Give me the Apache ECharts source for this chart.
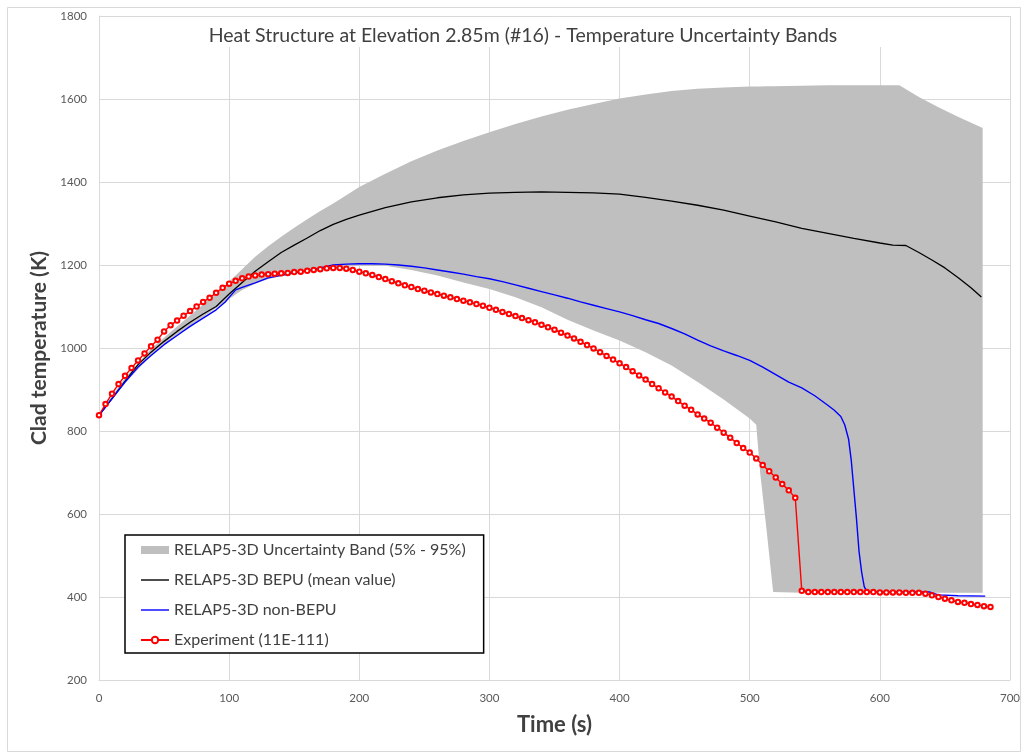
<!DOCTYPE html>
<html>
<head>
<meta charset="utf-8">
<title>Heat Structure at Elevation 2.85m (#16)</title>
<script src="https://cdn.jsdelivr.net/npm/echarts@6/dist/echarts.min.js"></script>
<style>
  html, body { margin: 0; padding: 0; background: #fff; }
  #chart { width: 1030px; height: 756px; }
</style>
</head>
<body>
<div id="chart"></div>
<script>
// ---- Data (time in s, clad temperature in K) ----
const xTicks = [0, 100, 200, 300, 400, 500, 600, 700];
const yTicks = [200, 400, 600, 800, 1000, 1200, 1400, 1600, 1800];

// Uncertainty band (5% / 95%) boundaries
const bandTime = [0, 20, 40, 60, 80, 100, 110, 120, 130, 140, 150, 160, 170, 180, 190, 200,
  220, 240, 260, 280, 300, 320, 340, 360, 380, 400, 420, 440, 460, 480, 500, 505, 508, 513, 518,
  540, 560, 580, 600, 615, 630, 645, 660, 679];
const bandLow = [835, 915, 982, 1032, 1075, 1118, 1140, 1155, 1166, 1173, 1179, 1184, 1188, 1192, 1196, 1198,
  1198, 1188, 1175, 1158, 1142, 1122, 1098, 1068, 1042, 1018, 990, 958, 918, 876, 830, 815, 700, 560, 412,
  410, 410, 410, 410, 410, 410, 410, 410, 410];
const bandHigh = [842, 928, 998, 1052, 1105, 1160, 1190, 1220, 1245, 1268, 1290, 1310, 1330, 1348, 1368, 1388,
  1420, 1450, 1476, 1499, 1520, 1540, 1558, 1574, 1588, 1601, 1611, 1619, 1625, 1628, 1630, 1630, 1630, 1631, 1631,
  1632, 1633, 1633, 1633, 1633, 1605, 1580, 1557, 1530];

// BEPU mean value
const meanTime = [0, 10, 20, 30, 40, 50, 60, 70, 80, 90, 100, 110, 120, 130, 140, 150, 160, 170, 180, 190,
  200, 220, 240, 260, 280, 300, 320, 340, 360, 380, 400, 420, 440, 460, 480, 500, 520, 540, 560, 580,
  600, 610, 620, 630, 640, 650, 660, 670, 678];
const meanTemp = [838, 878, 920, 960, 990, 1016, 1040, 1062, 1082, 1100, 1130, 1158, 1185, 1208, 1230, 1248, 1265, 1283, 1298, 1310,
  1320, 1338, 1352, 1362, 1369, 1373, 1375, 1376, 1375, 1374, 1371, 1363, 1354, 1344, 1332, 1318, 1304, 1288, 1276, 1264,
  1253, 1248, 1247, 1230, 1212, 1193, 1170, 1145, 1123];

// non-BEPU calculation
const nonBepuTime = [0, 10, 20, 30, 40, 50, 60, 70, 80, 90, 97, 100, 105, 110, 120, 130, 140, 150, 160, 170,
  180, 190, 200, 210, 220, 230, 240, 250, 260, 270, 280, 290, 300, 310, 320, 330, 340, 350, 360, 370,
  380, 390, 400, 410, 420, 430, 440, 450, 460, 470, 480, 490, 500, 510, 520, 530, 540, 550, 560, 565,
  570, 573, 576, 578, 580, 582, 584, 586, 588, 590, 600, 610, 620, 630, 638, 645, 660, 681];
const nonBepuTemp = [838, 878, 918, 954, 982, 1008, 1030, 1052, 1072, 1092, 1111, 1122, 1140, 1146, 1157, 1169, 1175, 1181, 1186, 1193,
  1200, 1202, 1203, 1203, 1202, 1200, 1197, 1193, 1188, 1183, 1178, 1172, 1167, 1160, 1152, 1144, 1136, 1128, 1120, 1111,
  1103, 1095, 1087, 1078, 1068, 1059, 1047, 1034, 1019, 1005, 993, 982, 970, 954, 936, 918, 904, 885, 862, 850,
  835, 815, 780, 730, 660, 590, 510, 460, 425, 413, 412, 412, 412, 412, 412, 405, 403, 402];

// Experiment 11E-111
const expTime = [0, 5, 10, 15, 20, 25, 30, 35, 40, 45, 50, 55, 60, 65, 70, 75, 80, 85, 90, 95,
  100, 105, 110, 115, 120, 125, 130, 135, 140, 145, 150, 155, 160, 165, 170, 175, 180, 185, 190, 195,
  200, 205, 210, 215, 220, 225, 230, 235, 240, 245, 250, 255, 260, 265, 270, 275, 280, 285, 290, 295,
  300, 305, 310, 315, 320, 325, 330, 335, 340, 345, 350, 355, 360, 365, 370, 375, 380, 385, 390, 395,
  400, 405, 410, 415, 420, 425, 430, 435, 440, 445, 450, 455, 460, 465, 470, 475, 480, 485, 490, 495,
  500, 505, 510, 515, 520, 525, 530, 535, 540, 545, 550, 555, 560, 565, 570, 575, 580, 585, 590, 595,
  600, 605, 610, 615, 620, 625, 630, 635, 640, 645, 650, 655, 660, 665, 670, 675, 680, 685];
const expTemp = [838, 865, 890, 913, 933, 952, 970, 987, 1004, 1020, 1040, 1055, 1066, 1078, 1089, 1100, 1111, 1121, 1133, 1145,
  1155, 1162, 1168, 1172, 1175, 1177, 1178, 1179, 1180, 1181, 1183, 1184, 1186, 1188, 1190, 1192, 1193, 1193, 1191, 1188,
  1184, 1180, 1176, 1171, 1166, 1161, 1156, 1151, 1147, 1142, 1138, 1134, 1130, 1126, 1122, 1118, 1114, 1110, 1106, 1102,
  1097, 1092, 1087, 1082, 1077, 1072, 1067, 1062, 1056, 1050, 1044, 1037, 1030, 1023, 1015, 1007, 999, 990, 981, 972,
  963, 954, 944, 934, 924, 913, 903, 893, 883, 872, 861, 851, 840, 830, 820, 808, 796, 784, 771, 759,
  748, 734, 718, 703, 688, 672, 657, 639, 415, 412, 412, 412, 412, 412, 412, 412, 412, 412, 412, 412,
  411, 411, 411, 411, 410, 410, 410, 408, 404, 400, 396, 392, 388, 386, 383, 381, 378, 376];

const BAND_NAME = 'RELAP5-3D Uncertainty Band (5% - 95%)';
const MEAN_NAME = 'RELAP5-3D BEPU (mean value)';
const NONBEPU_NAME = 'RELAP5-3D non-BEPU';
const EXP_NAME = 'Experiment (11E-111)';

const pairs = (xs, ys) => xs.map((x, i) => [x, ys[i]]);
const FONT = 'Lato, "Open Sans", sans-serif';
const GRID_COLOR = '#d9d9d9';
const BAND_COLOR = '#bfbfbf';
// Legend swatch for plain lines: a thin bar in the middle of a 28x8 box
// (the bare moves at the corners fix the box the path is scaled into).
const LINE_ICON = 'path://M0,0 M28,8 M0,3.3 L28,3.3 L28,4.7 L0,4.7 Z';

const chart = echarts.init(document.getElementById('chart'), null, { renderer: 'canvas' });

chart.setOption({
  backgroundColor: '#ffffff',
  animation: false,
  textStyle: { fontFamily: FONT },
  title: {
    text: 'Heat Structure at Elevation 2.85m (#16) - Temperature Uncertainty Bands',
    left: 518,
    top: 21,
    textAlign: 'center',
    textStyle: { fontFamily: FONT, fontSize: 19.5, fontWeight: 'normal', color: '#404040' }
  },
  graphic: [
    { type: 'rect', z: -10, silent: true,
      shape: { x: 7.5, y: 7.5, width: 1013, height: 744 },
      style: { fill: 'none', stroke: GRID_COLOR, lineWidth: 1 } },
    { type: 'rect', z: 1, silent: true,
      shape: { x: 200, y: 17, width: 690, height: 30 },
      style: { fill: '#ffffff' } }
  ],
  legend: {
    orient: 'vertical',
    left: 125,
    top: 535,
    padding: [6, 18, 4, 15],
    borderColor: '#000000',
    borderWidth: 1.5,
    backgroundColor: '#ffffff',
    itemWidth: 28,
    itemHeight: 8,
    itemGap: 12,
    textStyle: { fontFamily: FONT, fontSize: 16, color: '#404040', lineHeight: 18 },
    data: [
      { name: BAND_NAME, icon: 'rect', itemStyle: { color: BAND_COLOR } },
      { name: MEAN_NAME, icon: LINE_ICON, itemStyle: { color: '#000000' } },
      { name: NONBEPU_NAME, icon: LINE_ICON, itemStyle: { color: '#0000ff' } },
      { name: EXP_NAME }
    ]
  },
  grid: { left: 99, right: 20, top: 16, bottom: 76, containLabel: false },
  xAxis: {
    type: 'value',
    min: xTicks[0],
    max: xTicks[xTicks.length - 1],
    interval: 100,
    name: 'Time (s)',
    nameLocation: 'middle',
    nameGap: 34,
    nameTextStyle: { fontFamily: FONT, fontSize: 22, fontWeight: 'bold', color: '#404040', verticalAlign: 'top' },
    axisLine: { show: true, lineStyle: { color: GRID_COLOR, width: 1 } },
    axisTick: { show: false },
    axisLabel: { fontFamily: FONT, fontSize: 11.5, color: '#595959', margin: 12, formatter: v => String(v) },
    splitLine: { show: true, lineStyle: { color: GRID_COLOR, width: 1 } }
  },
  yAxis: {
    type: 'value',
    min: yTicks[0],
    max: yTicks[yTicks.length - 1],
    interval: 200,
    name: 'Clad temperature (K)',
    nameLocation: 'middle',
    nameGap: 45,
    nameTextStyle: { fontFamily: FONT, fontSize: 21, fontWeight: 'bold', color: '#404040' },
    axisLine: { show: true, lineStyle: { color: GRID_COLOR, width: 1 } },
    axisTick: { show: false },
    axisLabel: { fontFamily: FONT, fontSize: 11.5, color: '#595959', margin: 12, formatter: v => String(v) },
    splitLine: { show: true, lineStyle: { color: GRID_COLOR, width: 1 } }
  },
  series: [
    {
      name: BAND_NAME,
      type: 'custom',
      coordinateSystem: 'cartesian2d',
      silent: true,
      z: 2,
      itemStyle: { color: BAND_COLOR },
      data: bandTime.map((t, i) => [t, bandLow[i], bandHigh[i]]),
      encode: { x: 0, y: [1, 2] },
      renderItem: function (params, api) {
        if (params.dataIndex !== 0) return null;
        const pts = [];
        for (let i = 0; i < bandTime.length; i++) pts.push(api.coord([bandTime[i], bandHigh[i]]));
        for (let i = bandTime.length - 1; i >= 0; i--) pts.push(api.coord([bandTime[i], bandLow[i]]));
        return { type: 'polygon', shape: { points: pts }, style: { fill: BAND_COLOR } };
      }
    },
    {
      name: MEAN_NAME,
      type: 'line',
      z: 3,
      data: pairs(meanTime, meanTemp),
      showSymbol: false,
      symbol: 'none',
      color: '#000000',
      lineStyle: { color: '#000000', width: 1.3 }
    },
    {
      name: NONBEPU_NAME,
      type: 'line',
      z: 4,
      data: pairs(nonBepuTime, nonBepuTemp),
      showSymbol: false,
      symbol: 'none',
      color: '#0000ff',
      lineStyle: { color: '#0000ff', width: 1.4 }
    },
    {
      name: EXP_NAME,
      type: 'line',
      z: 5,
      data: pairs(expTime, expTemp),
      symbol: 'emptyCircle',
      symbolSize: 4.5,
      showSymbol: true,
      showAllSymbol: true,
      color: '#ff0000',
      itemStyle: { color: '#ff0000', borderColor: '#ff0000', borderWidth: 1 },
      lineStyle: { color: '#ff0000', width: 1.4 }
    }
  ]
});
</script>
</body>
</html>
